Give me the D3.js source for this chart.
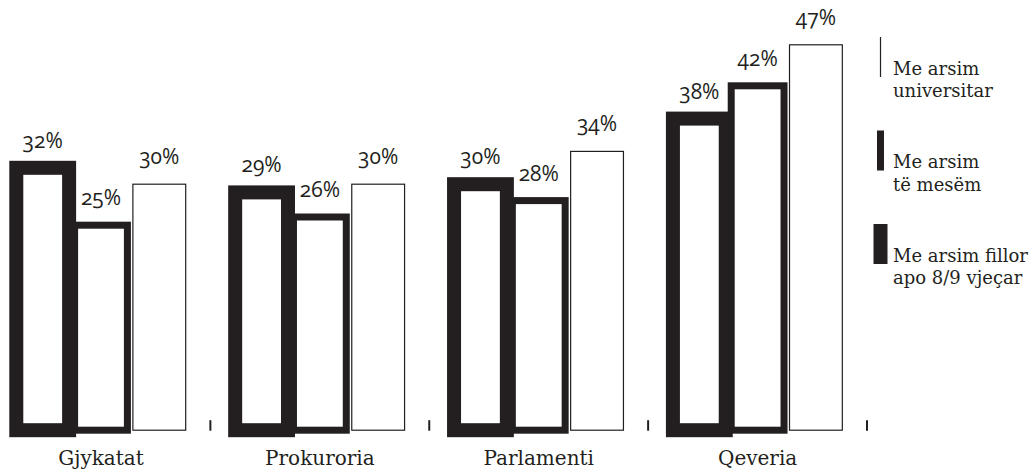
<!DOCTYPE html>
<html>
<head>
<meta charset="utf-8">
<script src="https://cdn.jsdelivr.net/npm/d3@7"></script>
<style>
  body { margin: 0; background: #fff; }
  .pct { font-family: "Open Sans", "Noto Sans", sans-serif; font-weight: 400; font-size: 21px;
         font-variant-numeric: oldstyle-nums; fill: #231f20; }
  .cat { font-family: "DejaVu Serif", serif; font-size: 20px; fill: #231f20; }
  .legend-text { font-family: "DejaVu Serif", serif; font-size: 18px; fill: #231f20; }
</style>
</head>
<body>
<div id="chart"></div>
<script>
// data
var categories = ["Gjykatat", "Prokuroria", "Parlamenti", "Qeveria"];
var seriesKeys = ["fillor", "mesem", "universitar"];
var fillorValues = [32, 29, 30, 38];
var mesemValues = [25, 26, 28, 42];
var universitarValues = [30, 30, 34, 47];
var legendLines = {
  universitar: ["Me arsim", "universitar"],
  mesem: ["Me arsim", "të mesëm"],
  fillor: ["Me arsim fillor", "apo 8/9 vjeçar"]
};

var svgWidth = 1032;
var svgHeight = 472;
var ink = "#231f20";

// outline thickness per series
var strokeFor = { fillor: 14, mesem: 7, universitar: 1.2 };

var svg = d3.select("#chart")
  .append("svg")
  .attr("width", svgWidth)
  .attr("height", svgHeight);

var rows = categories.map(function(c, i) {
  return {
    category: c,
    fillor: fillorValues[i],
    mesem: mesemValues[i],
    universitar: universitarValues[i]
  };
});

// x: one band per institution, ticks sit on the band's right edge
var x0 = d3.scaleBand()
  .domain(categories)
  .range([-8.5, 867])
  .padding(0);

var x1 = d3.scaleBand()
  .domain(seriesKeys)
  .range([24.8, 194.2])
  .paddingInner(0.094)
  .paddingOuter(0);

var baseY = 430.2;
var yScale = d3.scaleLinear()
  .domain([0, 47])
  .range([baseY, baseY - 47 * 8.2]);

var groups = svg.selectAll("g.group")
  .data(rows)
  .enter()
  .append("g")
  .attr("class", "group")
  .attr("transform", d => `translate(${x0(d.category)}, 0)`);

groups.selectAll("rect")
  .data(d => seriesKeys.map(k => ({ key: k, value: d[k] })))
  .enter()
  .append("rect")
  .attr("x", d => x1(d.key))
  .attr("y", d => yScale(d.value))
  .attr("width", x1.bandwidth())
  .attr("height", d => yScale(0) - yScale(d.value))
  .attr("fill", "#fff")
  .attr("stroke", ink)
  .attr("stroke-width", d => strokeFor[d.key]);

groups.selectAll("text.pct")
  .data(d => seriesKeys.map(k => ({ key: k, value: d[k] })))
  .enter()
  .append("text")
  .attr("class", "pct")
  .attr("x", d => x1(d.key) + x1.bandwidth() / 2)
  .attr("y", d => yScale(d.value) - 20)
  .attr("text-anchor", "middle")
  .text(d => d.value + "%");

// category labels under the middle bar
groups.append("text")
  .attr("class", "cat")
  .attr("x", x1("mesem") + x1.bandwidth() / 2)
  .attr("y", 465)
  .attr("text-anchor", "middle")
  .text(d => d.category);

// small ticks between groups
svg.selectAll("line.tick")
  .data(categories)
  .enter()
  .append("line")
  .attr("class", "tick")
  .attr("x1", d => x0(d) + x0.step())
  .attr("x2", d => x0(d) + x0.step())
  .attr("y1", baseY - 10)
  .attr("y2", baseY + 0.5)
  .attr("stroke", ink)
  .attr("stroke-width", 2);

// legend
var legendKeys = ["universitar", "mesem", "fillor"];
var legendY = d3.scalePoint()
  .domain(legendKeys)
  .range([37, 224]);

var legend = svg.selectAll("g.legend")
  .data(legendKeys)
  .enter()
  .append("g")
  .attr("class", "legend")
  .attr("transform", d => `translate(880.5, ${legendY(d)})`);

legend.append("rect")
  .attr("x", d => -strokeFor[d] / 2)
  .attr("y", 0)
  .attr("width", d => strokeFor[d])
  .attr("height", 40)
  .attr("fill", ink);

legend.each(function(d) {
  var t = d3.select(this).append("text")
    .attr("class", "legend-text")
    .attr("x", 12.5)
    .attr("y", 37.5);
  legendLines[d].forEach(function(line, i) {
    t.append("tspan")
      .attr("x", 12.5)
      .attr("dy", i === 0 ? 0 : 22.5)
      .text(line);
  });
});
</script>
</body>
</html>
